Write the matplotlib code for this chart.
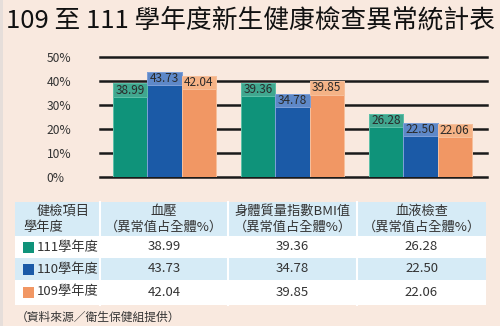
import matplotlib
matplotlib.use("Agg")
import matplotlib.pyplot as plt
from matplotlib.patches import Rectangle
import numpy as np

plt.rcParams['font.family'] = ['Noto Sans CJK TC', 'DejaVu Sans']

title = "109 至 111 學年度新生健康檢查異常統計表"
categories = ["血壓", "身體質量指數BMI值", "血液檢查"]
years = ["111學年度", "110學年度", "109學年度"]
values_111 = [38.99, 39.36, 26.28]
values_110 = [43.73, 34.78, 22.50]
values_109 = [42.04, 39.85, 22.06]
yticks = [0, 10, 20, 30, 40, 50]
ytick_labels = ["0%", "10%", "20%", "30%", "40%", "50%"]
header_col0 = ["健檢項目", "學年度"]
header_sub = "（異常值占全體%）"
source = "（資料來源／衛生保健組提供）"

series = [values_111, values_110, values_109]
colors = ["#0f937a", "#1b5aa7", "#f19764"]
band_colors = ["#40a78f", "#5e88c8", "#f5b386"]
edge_colors = ["#5cc0a8", "#7fa0d8", "#f7c09c"]

W, H = 500, 326
fig = plt.figure(figsize=(W / 100, H / 100), dpi=100, facecolor="#f9e9df")

# background / table overlay axes in pixel coordinates
bg = fig.add_axes([0, 0, 1, 1])
bg.set_xlim(0, W)
bg.set_ylim(H, 0)
bg.axis("off")
bg.add_patch(Rectangle((0, 0), 3, H, color="#e6deda", lw=0))

bg.text(250, 20, title, ha="center", va="center", fontsize=18.5, color="#111111")

# main chart
ax = fig.add_axes([100 / W, 1 - 177 / H, 387 / W, 120 / H])
ax.set_facecolor("none")
ax.set_ylim(0, 50)
ax.set_xlim(-0.504, 2.52)
for s in ax.spines.values():
    s.set_visible(False)
for t in yticks:
    ax.axhline(t, color="#1a1a1a", lw=1.8, zorder=1, clip_on=False)
ax.set_yticks(yticks)
ax.set_yticklabels(ytick_labels)
ax.tick_params(axis="y", length=0, pad=38.5, labelsize=8.7, labelcolor="#333333")
for lab in ax.get_yticklabels():
    lab.set_ha("left")
ax.set_xticks([])

x = np.arange(len(categories))
bw = 0.268
band = 5.5
for i, (vals, c, bc, ec) in enumerate(zip(series, colors, band_colors, edge_colors)):
    pos = x + (i - 1) * bw
    ax.bar(pos, vals, width=bw, color=c, edgecolor=ec, linewidth=0.7, zorder=2)
    tops = np.array(vals)
    ax.bar(pos, [band] * len(vals), bottom=tops - band, width=bw, color=bc,
           edgecolor=ec, linewidth=0.7, zorder=3)
    for p, v in zip(pos, vals):
        ax.text(p, v - band / 2, f"{v:.2f}", ha="center", va="center",
                fontsize=8.5, color="#2a2a2a", zorder=4)

# table
tl, tr = 15, 486
rows_y = [(202, 236), (236, 258), (258, 280), (280, 305)]
row_colors = ["#d6ebf6", "#ffffff", "#d6ebf6", "#ffffff"]
for (y0, y1), rc in zip(rows_y, row_colors):
    bg.add_patch(Rectangle((tl, y0), tr - tl, y1 - y0, color=rc, lw=0))
for sx in [100, 228, 357]:
    bg.plot([sx, sx], [202, 305], color="white", lw=1.5)

txt = "#333333"
bg.text(90, 211.5, header_col0[0], ha="right", va="center", fontsize=9.5, color=txt)
bg.text(23, 227.5, header_col0[1], ha="left", va="center", fontsize=9.5, color=txt)
col_centers = [164, 292.5, 421.5]
for cx, cat in zip(col_centers, categories):
    bg.text(cx, 211.5, cat, ha="center", va="center", fontsize=9.5, color=txt)
    bg.text(cx, 227.5, header_sub, ha="center", va="center", fontsize=9.5, color=txt)

row_centers = [247, 269, 292]
for yname, c, vals_row_idx, cy in zip(years, colors, range(3), row_centers):
    bg.add_patch(Rectangle((23, cy - 5.5), 10.5, 11, color=c, lw=0))
    bg.text(37, cy, yname, ha="left", va="center", fontsize=9.5, color=txt)
    for cx, v in zip(col_centers, series[vals_row_idx]):
        bg.text(cx, cy, f"{v:.2f}", ha="center", va="center", fontsize=9.5, color=txt)

bg.text(16, 317, source, ha="left", va="center", fontsize=8.5, color=txt)

fig.savefig("out.png", dpi=100, facecolor=fig.get_facecolor())
